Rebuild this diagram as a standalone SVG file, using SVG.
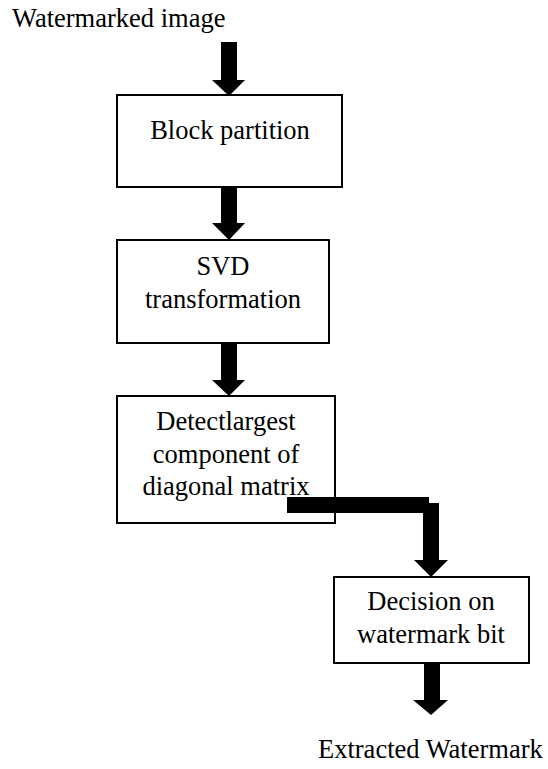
<svg xmlns="http://www.w3.org/2000/svg" width="548" height="769" viewBox="0 0 548 769">
<style>
.box{fill:#fff;stroke:#000;stroke-width:2}
text{font-family:"Liberation Serif","Times New Roman",serif;font-size:26.5px;fill:#000}
.m{text-anchor:middle}
.a{fill:#000;stroke:none}
</style>
<rect width="548" height="769" fill="#fff"/>
<g id="input"><text x="12" y="27">Watermarked image</text></g>
<g id="block-partition">
<rect class="box" x="117" y="95" width="225" height="92"/>
<text class="m" x="230" y="139">Block partition</text>
</g>
<g id="svd">
<rect class="box" x="117" y="240" width="212" height="103"/>
<text class="m" x="223" y="275">SVD</text>
<text class="m" x="223" y="308">transformation</text>
</g>
<g id="detect">
<rect class="box" x="117" y="396" width="218" height="127"/>
<text class="m" x="226" y="430">Detectlargest</text>
<text class="m" x="226" y="463">component of</text>
<text class="m" x="226" y="495">diagonal matrix</text>
</g>
<g id="decision">
<rect class="box" x="334" y="577" width="195" height="86"/>
<text class="m" x="431" y="610">Decision on</text>
<text class="m" x="431" y="643">watermark bit</text>
</g>
<g id="output"><text x="318" y="758">Extracted Watermark</text></g>
<g id="connectors">
<polygon class="a" points="221,42 237,42 237,80 245,80 229,96 212,80 221,80"/>
<polygon class="a" points="221,187 237,187 237,223 245,223 229,240 212,223 221,223"/>
<polygon class="a" points="221,343 237,343 237,380 245,380 229,396 212,380 221,380"/>
<rect class="a" x="287" y="497" width="142" height="16"/>
<polygon class="a" points="423,503 439,503 439,560 448,560 431,577 414,560 423,560"/>
<polygon class="a" points="424,663 440,663 440,700 448,700 431,715 413,700 424,700"/>
</g>
</svg>
